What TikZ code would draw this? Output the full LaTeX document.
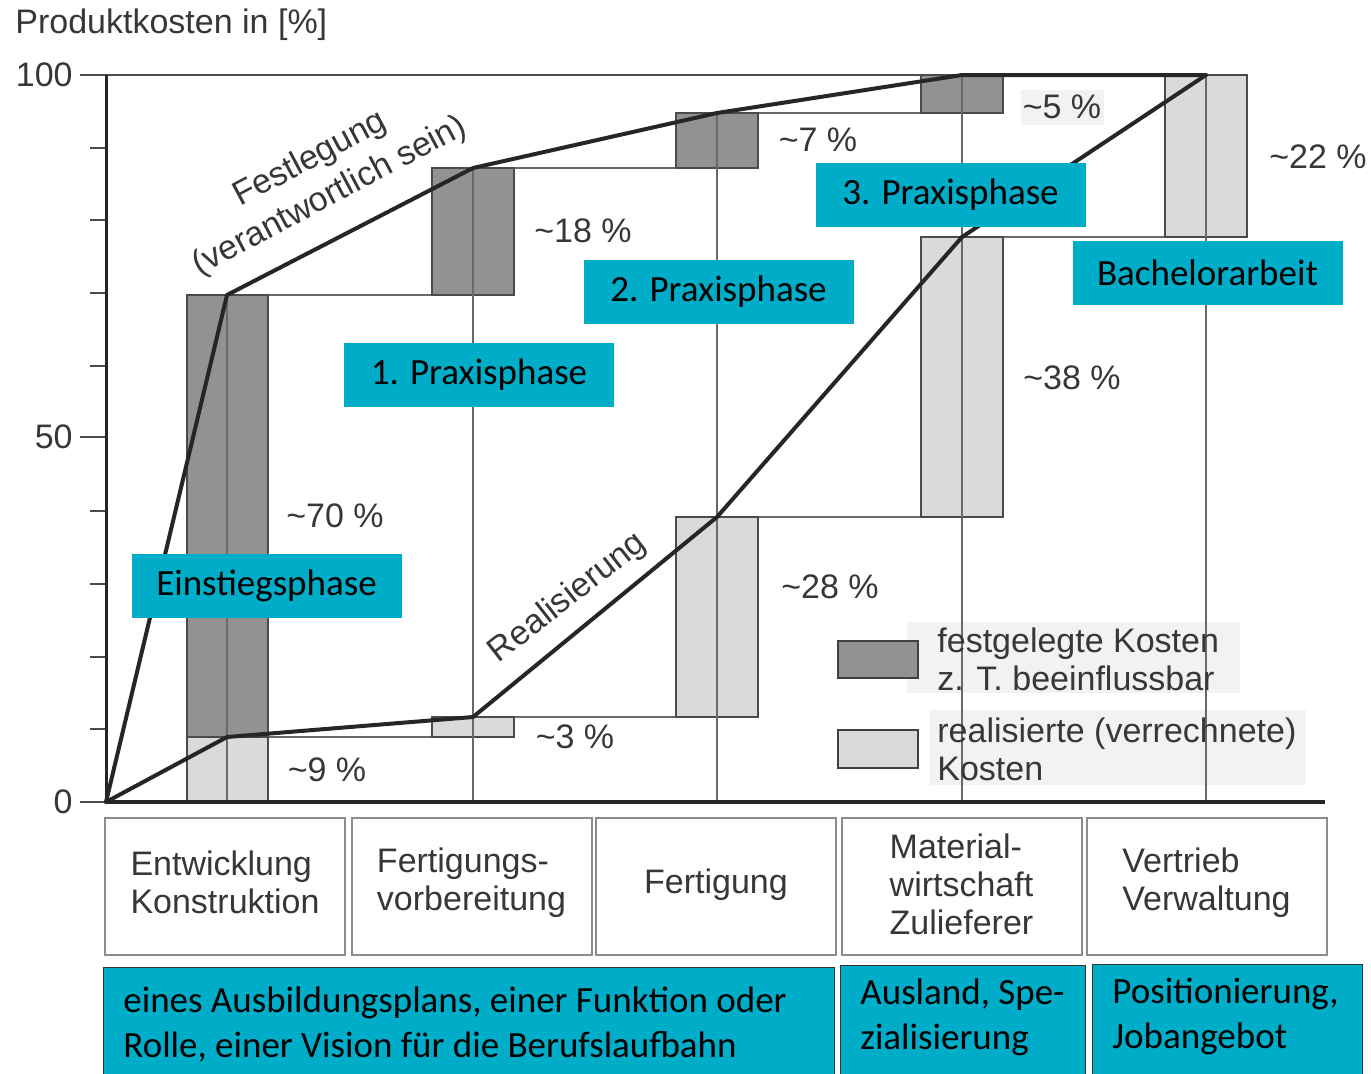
\documentclass[tikz,border=0pt]{standalone}
\usepackage{fontspec}
\setmainfont{Liberation Sans}
\newfontfamily\calfont{Carlito}
\definecolor{tealbox}{RGB}{0,173,201}
\definecolor{darkbar}{RGB}{146,146,146}
\definecolor{lightbar}{RGB}{218,218,218}
\definecolor{barline}{RGB}{75,75,75}
\definecolor{gridcol}{RGB}{105,105,105}
\definecolor{txtcol}{RGB}{55,55,55}
\definecolor{legbg}{RGB}{242,242,242}
\begin{document}
\begin{tikzpicture}[x=0.5pt,y=-0.5pt,
  gtext/.style={text=txtcol, font=\fontsize{17}{19}\selectfont, inner sep=0pt},
  darkb/.style={fill=darkbar, draw=barline, line width=0.7pt},
  lightb/.style={fill=lightbar, draw=barline, line width=0.7pt},
  gridl/.style={draw=gridcol, line width=0.7pt},
  curve/.style={draw=black!85, line width=2pt, line join=round, line cap=round},
  phase/.style={fill=tealbox, font=\calfont\fontsize{18.5}{22.5}\selectfont, inner sep=0pt, minimum width=135pt, minimum height=32pt},
  tealrect/.style={fill=tealbox, draw=black!80, line width=0.7pt, inner sep=0pt, anchor=north west},
  tealtext/.style={font=\calfont\fontsize{18.5}{22.5}\selectfont, align=left, inner sep=0pt, anchor=west},
  colbox/.style={draw=black!45, line width=1pt, fill=white, inner sep=0pt, minimum width=120pt, minimum height=68.5pt},
  coltext/.style={text=txtcol, font=\fontsize{17}{19}\selectfont, align=left, inner sep=0pt},
  legbox/.style={draw=black!75, line width=1.3pt},
]
\fill[white] (0,0) rectangle (1371,1073);
\useasboundingbox (0,0) rectangle (1371,1073);

% title and y labels
\node[gtext, anchor=base west] (title) at (15,33) {Produktkosten in [\%]};
\node[gtext, anchor=east] (y100) at (73,75) {100};
\node[gtext, anchor=east] (y50) at (73,437) {50};
\node[gtext, anchor=east] (y0) at (73,802) {0};

% legend text backgrounds
\fill[legbg] (907,622) rectangle (1240,693);
\fill[legbg] (930,710) rectangle (1306,785);
\fill[legbg] (1021,90) rectangle (1104,125);

% ticks
\foreach \k in {1,2,3,4,6,7,8,9} \draw[gridl, draw=black!70, line width=1pt] (90,{802-72.7*\k}) -- (106,{802-72.7*\k});
\draw[gridl, draw=black!70, line width=1pt] (80,437) -- (106,437);
\draw[gridl, draw=black!70, line width=1pt] (80,802) -- (106,802);
\draw[gridl, draw=black!70, line width=1pt] (80,75) -- (1247,75);

% horizontal step lines
\draw[gridl] (268,295) -- (432,295);
\draw[gridl] (514,168) -- (676,168);
\draw[gridl] (758,113) -- (921,113);
\draw[gridl] (268,737) -- (432,737);
\draw[gridl] (514,717) -- (676,717);
\draw[gridl] (758,517) -- (921,517);
\draw[gridl] (1003,237) -- (1165,237);

% bars
\draw[darkb] (187,295) rectangle (268,737);
\draw[lightb] (187,737) rectangle (268,802);
\draw[darkb] (432,168) rectangle (514,295);
\draw[lightb] (432,717) rectangle (514,737);
\draw[darkb] (676,113) rectangle (758,168);
\draw[lightb] (676,517) rectangle (758,717);
\draw[darkb] (921,75) rectangle (1003,113);
\draw[lightb] (921,237) rectangle (1003,517);
\draw[lightb] (1165,75) rectangle (1247,237);

% vertical column lines
\draw[gridl] (227,295) -- (227,802);
\draw[gridl] (473,168) -- (473,802);
\draw[gridl] (717,113) -- (717,802);
\draw[gridl] (962,75) -- (962,802);
\draw[gridl] (1206,75) -- (1206,802);

% axes
\draw[draw=black!85, line width=1.5pt] (106,75) -- (106,802);
\draw[draw=black!85, line width=2pt] (106,802) -- (1325,802);

% curves
\draw[curve] (106,802) -- (227,295) -- (473,168) -- (717,113) -- (962,75) -- (1206,75);
\draw[curve] (106,802) -- (227,737) -- (473,717) -- (717,517) -- (962,237) -- (1206,75);

% curve labels
\node[gtext, rotate=28, align=center, font=\fontsize{17}{21}\selectfont] (fest) at (320,178) {Festlegung\\(verantwortlich sein)};
\node[gtext, rotate=38] (real) at (568,598) {Realisierung};

% percentages
\node[gtext] (p70) at (335,516) {\textasciitilde 70 \%};
\node[gtext] (p9) at (327,770) {\textasciitilde 9 \%};
\node[gtext] (p18) at (583,231) {\textasciitilde 18 \%};
\node[gtext] (p3) at (575,737) {\textasciitilde 3 \%};
\node[gtext] (p7) at (818,140) {\textasciitilde 7 \%};
\node[gtext] (p28) at (830,587) {\textasciitilde 28 \%};
\node[gtext] (p5) at (1062,107) {\textasciitilde 5 \%};
\node[gtext] (p38) at (1072,378) {\textasciitilde 38 \%};
\node[gtext] (p22) at (1318,157) {\textasciitilde 22 \%};

% legend
\draw[legbox, fill=darkbar] (838,641) rectangle (918,678);
\draw[legbox, fill=lightbar] (838,730) rectangle (918,768);
\node[gtext, anchor=west, align=left] (leg1) at (937,659) {festgelegte Kosten\\z. T. beeinflussbar};
\node[gtext, anchor=west, align=left] (leg2) at (937,749) {realisierte (verrechnete)\\Kosten};

% phase boxes
\node[phase] (ph1) at (479,375) {1. Praxisphase};
\node[phase] (ph2) at (718.5,292) {2. Praxisphase};
\node[phase] (ph3) at (950.5,195) {3. Praxisphase};
\node[phase] (bach) at (1207.5,273) {Bachelorarbeit};
\node[phase] (einst) at (266.5,585.5) {Einstiegsphase};

% column boxes
\node[colbox] (c1) at (225,886.5) {};
\node[colbox] (c2) at (471.5,886.5) {};
\node[colbox] (c3) at (716,886.5) {};
\node[colbox] (c4) at (961.5,886.5) {};
\node[colbox] (c5) at (1206.5,886.5) {};
\node[coltext] (t1) at ([yshift=2pt]c1.center) {Entwicklung\\Konstruktion};
\node[coltext] (t2) at ([yshift=2pt]c2.center) {Fertigungs-\\vorbereitung};
\node[coltext] (t3) at ([yshift=1pt]c3.center) {Fertigung};
\node[coltext] (t4) at ([yshift=1pt]c4.center) {Material-\\wirtschaft\\Zulieferer};
\node[coltext] (t5) at ([yshift=2pt]c5.center) {Vertrieb\\Verwaltung};

% bottom teal boxes
\node[tealrect, minimum width=365.5pt, minimum height=56.5pt] (b1) at (103,967) {};
\node[tealrect, minimum width=122.5pt, minimum height=57.5pt] (b2) at (840,965) {};
\node[tealrect, minimum width=135pt, minimum height=58pt] (b3) at (1092,964) {};
\node[tealtext] (bt1) at ([xshift=10pt]b1.west) {eines Ausbildungsplans, einer Funktion oder\\Rolle, einer Vision für die Berufslaufbahn};
\node[tealtext] (bt2) at ([xshift=10pt,yshift=3pt]b2.west) {Ausland, Spe-\\zialisierung};
\node[tealtext] (bt3) at ([xshift=10pt,yshift=3pt]b3.west) {Positionierung,\\Jobangebot};
\end{tikzpicture}
\end{document}
